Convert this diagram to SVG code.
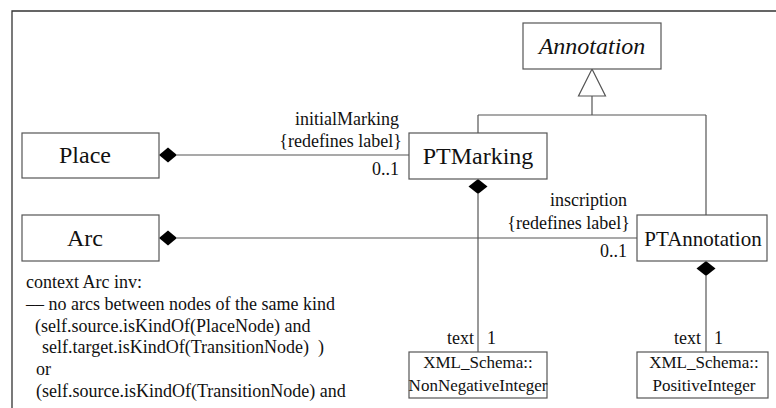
<svg xmlns="http://www.w3.org/2000/svg" width="776" height="408" viewBox="0 0 776 408">
<defs>
<style>
.box{fill:#fff;stroke:#555;stroke-width:1.2}
.frame{fill:none;stroke:#333;stroke-width:1.3}
.ln{fill:none;stroke:#555;stroke-width:1.2}
.dia{fill:#000;stroke:none}
.tri{fill:#fff;stroke:#555;stroke-width:1.2}
.big{font-family:"Liberation Serif","Times New Roman",serif;font-size:24px;fill:#111;text-anchor:middle}
.lbl{font-family:"Liberation Serif","Times New Roman",serif;font-size:18px;fill:#111}
.sm{font-family:"Liberation Serif","Times New Roman",serif;font-size:17px;fill:#111;text-anchor:middle}
.r{text-anchor:end}
.pre{white-space:pre}
</style>
</defs>
<rect width="776" height="408" fill="#fff"/>
<path class="frame" d="M12,420 V11 H790"/>

<g id="connectors">
  <!-- generalization -->
  <path class="ln" d="M592,96 V115 M478,115 H706 M478,115 V133 M706,115 V215"/>
  <polygon class="tri" points="592,69 605.5,96 578.5,96"/>
  <!-- Place - PTMarking -->
  <path class="ln" d="M177,155 H409"/>
  <polygon class="dia" points="159,155 168,147.5 177,155 168,162.5"/>
  <text class="lbl r" x="399" y="125">initialMarking</text>
  <text class="lbl r" x="402" y="147">{redefines label}</text>
  <text class="lbl r" x="399" y="175">0..1</text>
  <!-- Arc - PTAnnotation -->
  <path class="ln" d="M177,238 H637"/>
  <polygon class="dia" points="159,238 168,230.5 177,238 168,245.5"/>
  <text class="lbl r" x="627" y="206">inscription</text>
  <text class="lbl r" x="630" y="229">{redefines label}</text>
  <text class="lbl r" x="627" y="257">0..1</text>
  <!-- PTMarking - NonNegativeInteger -->
  <path class="ln" d="M478,194 V352"/>
  <polygon class="dia" points="478,179 487.5,186.5 478,194 468.5,186.5"/>
  <text class="lbl r" x="474" y="344">text</text>
  <text class="lbl" x="487" y="344">1</text>
  <!-- PTAnnotation - PositiveInteger -->
  <path class="ln" d="M706,276 V352"/>
  <polygon class="dia" points="706,261 715.5,268.5 706,276 696.5,268.5"/>
  <text class="lbl r" x="701" y="344">text</text>
  <text class="lbl" x="714" y="344">1</text>
</g>

<g id="annotation">
  <rect class="box" x="523" y="23" width="138" height="46"/>
  <text class="big" x="592" y="54" font-style="italic">Annotation</text>
</g>
<g id="place">
  <rect class="box" x="22" y="133" width="137" height="45"/>
  <text class="big" x="85" y="163">Place</text>
</g>
<g id="ptmarking">
  <rect class="box" x="409" y="133" width="138" height="46"/>
  <text class="big" x="478" y="164">PTMarking</text>
</g>
<g id="arc">
  <rect class="box" x="22" y="215" width="137" height="46"/>
  <text class="big" x="85" y="246">Arc</text>
</g>
<g id="ptannotation">
  <rect class="box" x="637" y="215" width="130" height="46"/>
  <text class="big" x="703" y="246" style="font-size:21px">PTAnnotation</text>
</g>
<g id="nonnegativeinteger">
  <rect class="box" x="409" y="352" width="138" height="46"/>
  <text class="sm" x="478" y="368">XML_Schema::</text>
  <text class="sm" x="478" y="391">NonNegativeInteger</text>
</g>
<g id="positiveinteger">
  <rect class="box" x="637" y="352" width="131" height="46"/>
  <text class="sm" x="704" y="368">XML_Schema::</text>
  <text class="sm" x="704" y="391">PositiveInteger</text>
</g>

<g id="ocl-note">
  <text class="lbl" x="26" y="288">context Arc inv:</text>
  <text class="lbl" x="26" y="310">–– no arcs between nodes of the same kind</text>
  <text class="lbl" x="35" y="332">(self.source.isKindOf(PlaceNode) and</text>
  <text class="lbl pre" x="42" y="353">self.target.isKindOf(TransitionNode)  )</text>
  <text class="lbl" x="36" y="375">or</text>
  <text class="lbl" x="36" y="397">(self.source.isKindOf(TransitionNode) and</text>
</g>
</svg>
